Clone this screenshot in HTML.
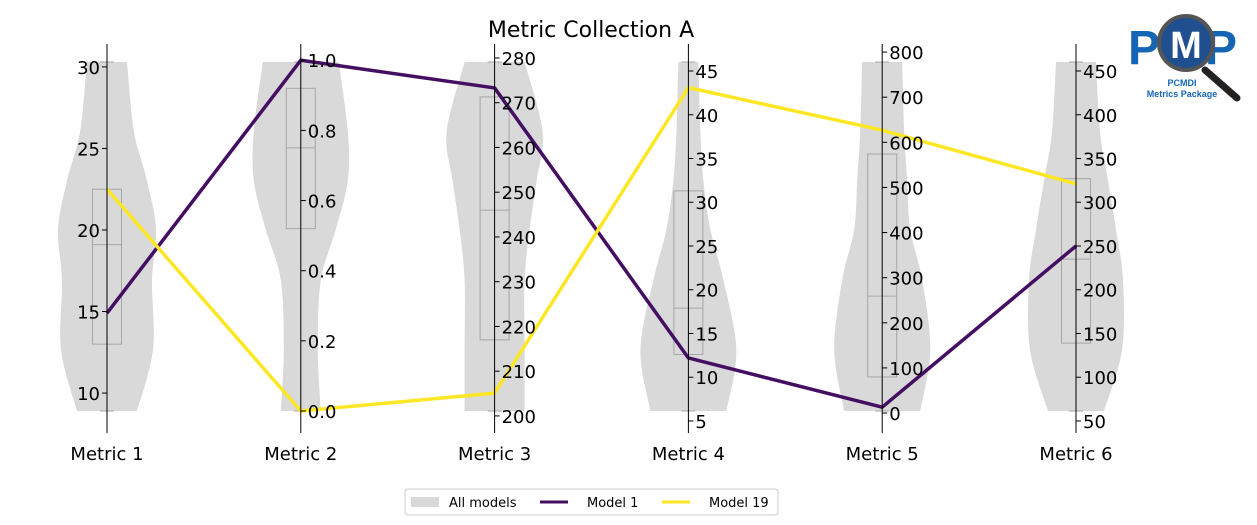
<!DOCTYPE html>
<html><head><meta charset="utf-8"><style>
body{margin:0;background:#fff;}
svg{display:block;font-family:"DejaVu Sans","Liberation Sans",sans-serif;}
</style></head><body>
<svg id="chart" width="1257" height="525" viewBox="0 0 1257 525">
<text x="591" y="37" font-size="22" text-anchor="middle">Metric Collection A</text>
<g id="plot"></g>
<g id="legend">
<rect x="405" y="489" width="373" height="26" fill="#fff" stroke="#ccc" rx="3"/>
<g><rect x="411" y="497" width="28" height="10" fill="#d9d9d9"/><text x="449" y="507" font-size="13">All models</text></g>
<g><line x1="540" y1="502" x2="568" y2="502" stroke="#440f62" stroke-width="3"/><text x="587" y="507" font-size="13">Model 1</text></g>
<g><line x1="662" y1="502" x2="690" y2="502" stroke="#fde725" stroke-width="3"/><text x="709" y="507" font-size="13">Model 19</text></g>
</g>
<g>
<text x="1128" y="64" font-size="48" font-weight="bold" fill="#1565b5" font-family="Liberation Sans,sans-serif" letter-spacing="-2">P</text>
<text x="1205" y="64" font-size="48" font-weight="bold" fill="#1565b5" font-family="Liberation Sans,sans-serif">P</text>
<line x1="1205" y1="70" x2="1237" y2="98" stroke="#222" stroke-width="7" stroke-linecap="round"/>
<circle cx="1186" cy="43" r="27" fill="#1f4f8f" stroke="#555" stroke-width="4"/>
<text x="1186" y="58" font-size="38" font-weight="bold" fill="#fff" text-anchor="middle" font-family="Liberation Sans,sans-serif">M</text>
<text x="1182" y="86" font-size="9" font-weight="bold" fill="#1565b5" text-anchor="middle" font-family="Liberation Sans,sans-serif">PCMDI</text>
<text x="1182" y="97" font-size="9" font-weight="bold" fill="#1565b5" text-anchor="middle" font-family="Liberation Sans,sans-serif">Metrics Package</text>
</g>
</svg>
<script>
const metrics=["Metric 1","Metric 2","Metric 3","Metric 4","Metric 5","Metric 6"];
const axisMin=[8.9,0.0,201.1,6.14,4.5,61.4];
const axisMax=[30.3,0.995,279.1,46.03,778,460.3];
const tickStart=[10,0,200,5,0,50];
const tickStep=[5,0.2,10,5,100,50];
const tickCount=[5,6,9,9,9,9];
const tickDecimals=[0,1,0,0,0,0];
const model1=[14.9,1.0,273.3,12.2,13,250];
const model19=[22.5,0.0,205.1,43.1,627,321];
const q1=[13.0,0.52,217,12.6,80,139];
const med=[19.1,0.75,246,17.9,259,235];
const q3=[22.5,0.92,271.3,31.3,574,327];
const densLevels=[0,0.175,0.375,0.52,0.66,0.8,1.0];
const dens1=[30,46,45,49,40,27,20];
const dens2=[20,17,20,35,47,47,38];
const dens3=[30,30,30,35,42,48,30];
const dens4=[38,48,35,22,15,12,10];
const dens5=[38,48,40,28,25,22,20];
const dens6=[28,46,47,40,32,24,20];
const densities=[dens1,dens2,dens3,dens4,dens5,dens6];

const NS="http://www.w3.org/2000/svg";
const plot=document.getElementById('plot');
const X0=107,DX=193.8,YT=62,YB=411;
function ax(i){return X0+i*DX;}
function yv(i,v){return YB-(v-axisMin[i])/(axisMax[i]-axisMin[i])*(YB-YT);}
function mk(tag,attrs,parent){const e=document.createElementNS(NS,tag);for(const k in attrs)e.setAttribute(k,attrs[k]);(parent||plot).appendChild(e);return e;}
function catmull(pts){
  let s='';
  for(let k=0;k<pts.length-1;k++){
    const p0=pts[Math.max(k-1,0)],p1=pts[k],p2=pts[k+1],p3=pts[Math.min(k+2,pts.length-1)];
    const c1=[p1[0]+(p2[0]-p0[0])/6,p1[1]+(p2[1]-p0[1])/6];
    const c2=[p2[0]-(p3[0]-p1[0])/6,p2[1]-(p3[1]-p1[1])/6];
    s+=` C${c1[0]},${c1[1]} ${c2[0]},${c2[1]} ${p2[0]},${p2[1]}`;
  }
  return s;
}
metrics.forEach((m,i)=>{
  const x=ax(i);const d=densities[i];
  const right=densLevels.map((t,k)=>[x+d[k],YB-t*(YB-YT)]);
  const left=densLevels.map((t,k)=>[x-d[k],YB-t*(YB-YT)]).reverse();
  let p=`M${left[left.length-1][0]},${YB} L${right[0][0]},${YB}`+catmull(right)+` L${left[0][0]},${YT}`+catmull(left)+'Z';
  const v=mk('path',{d:p,fill:'#d9d9d9'});
  
  
  const g=mk('g',{stroke:'#a6a6a6','stroke-width':1,fill:'none'});
  
  
  const y1=yv(i,q1[i]),y3=yv(i,q3[i]),ym=yv(i,med[i]);
  mk('rect',{x:x-14.5,y:y3,width:29,height:y1-y3},g);
  mk('line',{x1:x-14.5,x2:x+14.5,y1:ym,y2:ym},g);
  mk('line',{x1:x-7,x2:x+7,y1:YT,y2:YT},g);
  mk('line',{x1:x-7,x2:x+7,y1:YB,y2:YB},g);
});
[[model1,'#440f62','model-1-line'],[model19,'#fde725','model-19-line']].forEach(([arr,c,n])=>{
  const l=mk('polyline',{points:arr.map((v,i)=>ax(i)+','+yv(i,v)).join(' '),fill:'none',stroke:c,'stroke-width':3.5,'stroke-linejoin':'round'});
  
  
});
metrics.forEach((m,i)=>{
  const x=ax(i);
  const g=mk('g',{});
  
  
  mk('line',{x1:x,x2:x,y1:44,y2:433,stroke:'#000','stroke-width':1},g);
  const left=i===0;
  for(let k=0;k<tickCount[i];k++){
    const v=tickStart[i]+k*tickStep[i];const y=yv(i,v);
    mk('line',{x1:x,x2:left?x-5:x+5,y1:y,y2:y,stroke:'#000'},g);
    const t=mk('text',{x:left?x-7:x+7,y:y+7,'font-size':18,'text-anchor':left?'end':'start'},g);
    t.textContent=v.toFixed(tickDecimals[i]);
  }
  const lb=mk('text',{x:x,y:460,'font-size':18,'text-anchor':'middle'});
  lb.textContent=m;
  
  
});
</script>
</body></html>
